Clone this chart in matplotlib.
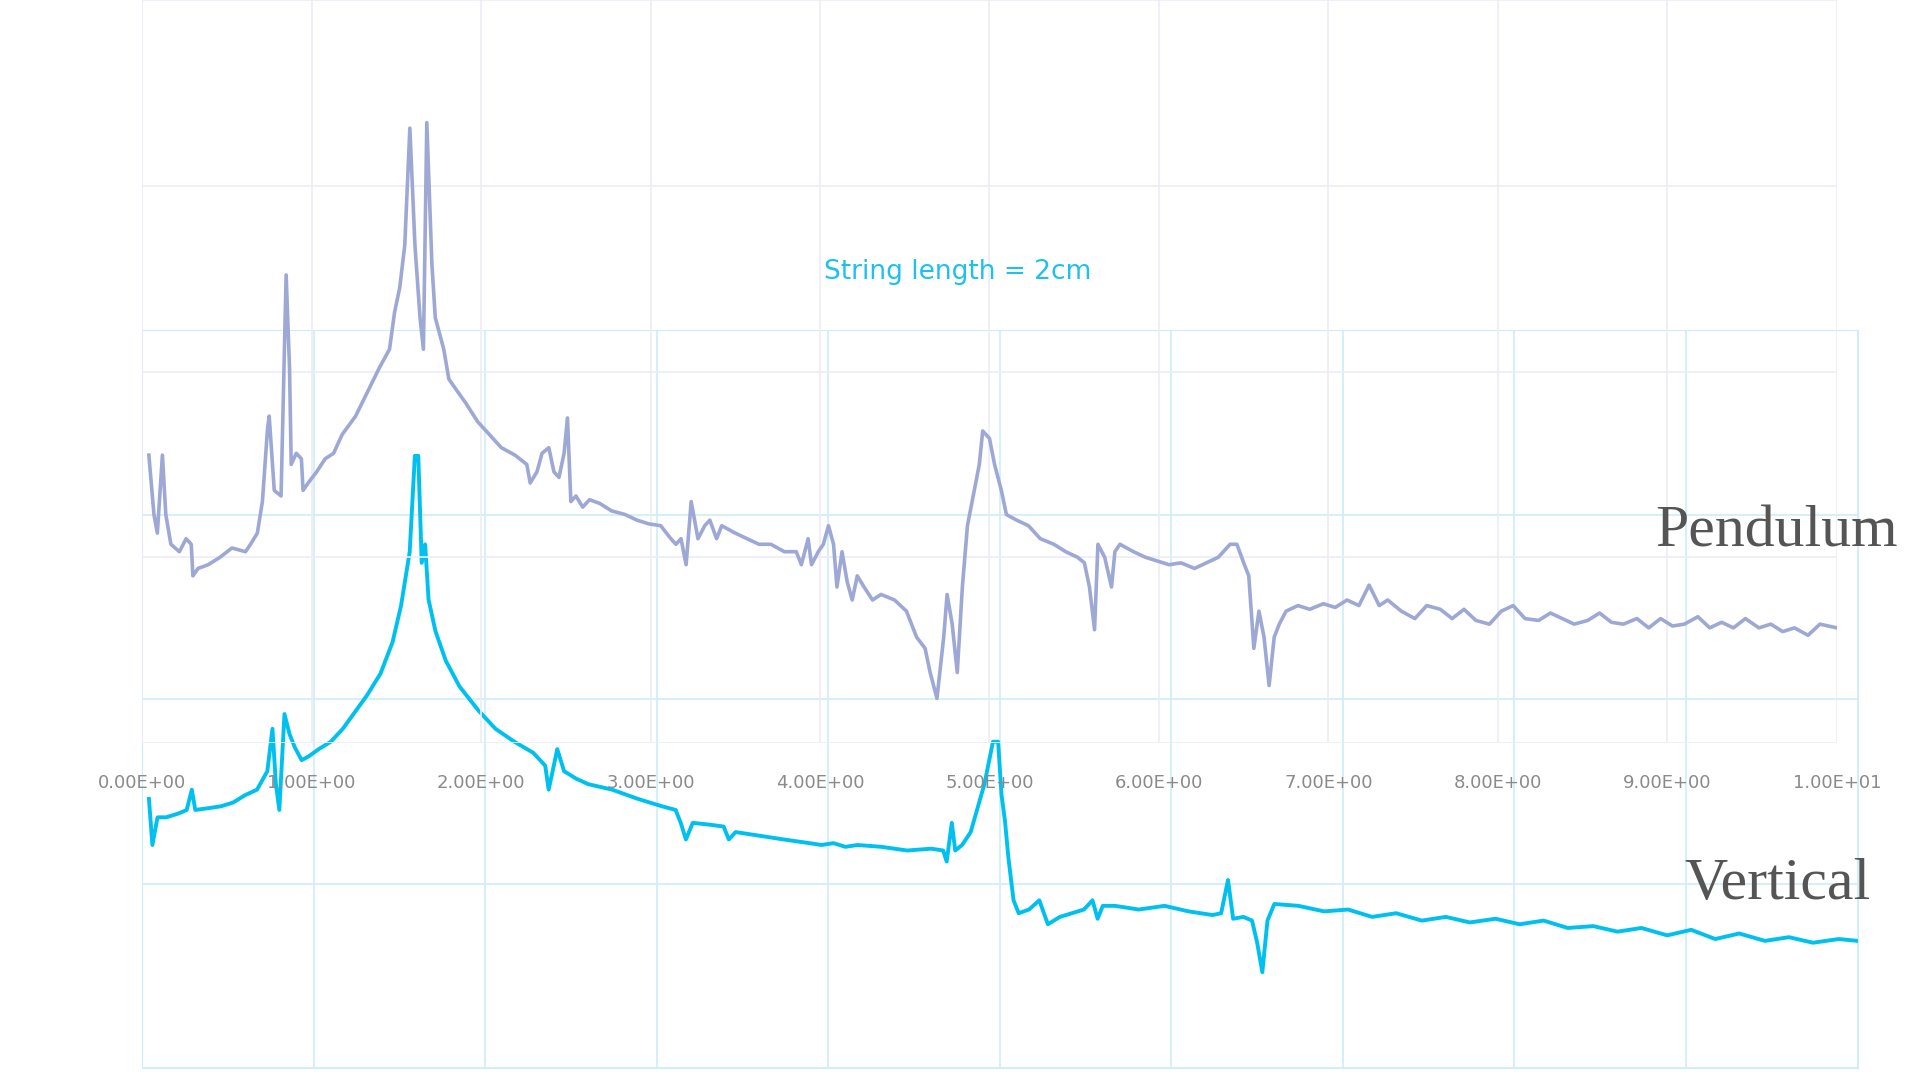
import matplotlib
matplotlib.use("Agg")
import matplotlib.pyplot as plt

# Pendulum trace (upper panel)
pend_x = [0.04, 0.07, 0.09, 0.12, 0.14, 0.17, 0.22, 0.26, 0.29, 0.30, 0.33, 0.39, 0.46, 0.53, 0.61, 0.64,
          0.68, 0.71, 0.74, 0.75, 0.78, 0.82, 0.85, 0.87, 0.88, 0.91, 0.94, 0.95, 0.98, 1.03, 1.08, 1.13,
          1.18, 1.26, 1.33, 1.40, 1.46, 1.49, 1.52, 1.55, 1.58, 1.61, 1.64, 1.66, 1.68, 1.71, 1.73, 1.78,
          1.81, 1.84, 1.91, 1.98, 2.05, 2.12, 2.20, 2.27, 2.29, 2.33, 2.36, 2.40, 2.43, 2.46, 2.49, 2.51,
          2.53, 2.56, 2.60, 2.64, 2.70, 2.77, 2.85, 2.92, 2.99, 3.06, 3.12, 3.15, 3.18, 3.21, 3.24, 3.28,
          3.32, 3.35, 3.39, 3.42, 3.50, 3.57, 3.64, 3.71, 3.79, 3.86, 3.89, 3.93, 3.95, 3.99, 4.02, 4.05,
          4.08, 4.10, 4.13, 4.16, 4.19, 4.22, 4.26, 4.31, 4.36, 4.44, 4.51, 4.57, 4.62, 4.65, 4.69, 4.73,
          4.75, 4.78, 4.81, 4.84, 4.87, 4.91, 4.94, 4.96, 5.00, 5.03, 5.07, 5.10, 5.16, 5.23, 5.30, 5.38,
          5.45, 5.52, 5.56, 5.59, 5.62, 5.64, 5.68, 5.72, 5.74, 5.77, 5.85, 5.92, 5.99, 6.06, 6.13, 6.21,
          6.28, 6.35, 6.42, 6.46, 6.50, 6.53, 6.56, 6.59, 6.62, 6.65, 6.68, 6.71, 6.75,
          6.82, 6.89, 6.97, 7.04, 7.11, 7.18, 7.24, 7.30, 7.35, 7.43, 7.51, 7.58, 7.66, 7.73, 7.80, 7.87,
          7.95, 8.02, 8.09, 8.16, 8.24, 8.31, 8.38, 8.45, 8.53, 8.60, 8.67, 8.74, 8.82, 8.89, 8.96, 9.03,
          9.10, 9.18, 9.25, 9.32, 9.39, 9.46, 9.54, 9.61, 9.68, 9.75, 9.83, 9.90, 10.0]
pend_y = [1.55, 1.23, 1.13, 1.55, 1.23, 1.07, 1.03, 1.10, 1.07, 0.90, 0.94, 0.96, 1.00, 1.05, 1.03, 1.07,
          1.13, 1.30, 1.69, 1.76, 1.36, 1.33, 2.52, 2.02, 1.50, 1.56, 1.53, 1.36, 1.40, 1.46, 1.53, 1.56,
          1.66, 1.76, 1.89, 2.02, 2.12, 2.32, 2.45, 2.68, 3.31, 2.68, 2.29, 2.12, 3.34, 2.58, 2.29, 2.12,
          1.96, 1.92, 1.83, 1.73, 1.66, 1.59, 1.55, 1.50, 1.40, 1.46, 1.56, 1.59, 1.46, 1.43, 1.56, 1.75,
          1.30, 1.33, 1.27, 1.31, 1.29, 1.25, 1.23, 1.20, 1.18, 1.17, 1.10, 1.07, 1.10, 0.96, 1.30, 1.10,
          1.17, 1.20, 1.10, 1.17, 1.13, 1.10, 1.07, 1.07, 1.03, 1.03, 0.96, 1.10, 0.96, 1.03, 1.07, 1.17,
          1.07, 0.84, 1.03, 0.87, 0.77, 0.90, 0.84, 0.77, 0.80, 0.77, 0.71, 0.57, 0.51, 0.38, 0.24, 0.57,
          0.80, 0.64, 0.38, 0.84, 1.17, 1.36, 1.50, 1.68, 1.64, 1.50, 1.36, 1.23, 1.20, 1.17, 1.10, 1.07,
          1.03, 1.00, 0.97, 0.84, 0.61, 1.07, 1.00, 0.84, 1.03, 1.07, 1.03, 1.00, 0.98, 0.96, 0.97, 0.94,
          0.97, 1.00, 1.07, 1.07, 0.97, 0.90, 0.51, 0.71, 0.57, 0.31, 0.57, 0.64, 0.71,
          0.74, 0.72, 0.75, 0.73, 0.77, 0.74, 0.85, 0.74, 0.77, 0.71, 0.67, 0.74, 0.72, 0.67, 0.72, 0.66,
          0.64, 0.71, 0.74, 0.67, 0.66, 0.70, 0.67, 0.64, 0.66, 0.70, 0.65, 0.64, 0.67, 0.62, 0.67, 0.63,
          0.64, 0.68, 0.62, 0.65, 0.62, 0.67, 0.62, 0.64, 0.60, 0.62, 0.58, 0.64, 0.62]

# Vertical trace (lower panel)
vert_x = [0.04, 0.06, 0.09, 0.14, 0.21, 0.26, 0.29, 0.31, 0.39, 0.46, 0.53, 0.60, 0.67, 0.73, 0.76, 0.78,
          0.80, 0.83, 0.86, 0.89, 0.93, 0.97, 1.03, 1.10, 1.17, 1.24, 1.31, 1.39, 1.46, 1.51, 1.56, 1.59,
          1.61, 1.63, 1.65, 1.67, 1.71, 1.77, 1.85, 1.96, 2.06, 2.17, 2.28, 2.35, 2.37, 2.40, 2.42, 2.46,
          2.53, 2.60, 2.74, 2.89, 3.03, 3.11, 3.14, 3.17, 3.21, 3.31, 3.39, 3.42, 3.46, 3.60, 3.74, 3.89,
          3.96, 4.03, 4.10, 4.17, 4.31, 4.46, 4.60, 4.67, 4.69, 4.72, 4.74, 4.78, 4.83, 4.87, 4.91, 4.96,
          4.99, 5.01, 5.03, 5.05, 5.08, 5.11, 5.17, 5.23, 5.28, 5.35, 5.42, 5.49, 5.54, 5.57, 5.60, 5.67,
          5.81, 5.96, 6.10, 6.24, 6.29, 6.33, 6.36, 6.42, 6.47, 6.50, 6.53, 6.56, 6.60,
          6.74, 6.89, 7.03, 7.17, 7.31, 7.46, 7.60, 7.74, 7.89, 8.03, 8.17, 8.31, 8.46, 8.60, 8.74, 8.89,
          9.03, 9.17, 9.31, 9.46, 9.60, 9.74, 9.89, 10.0]
vert_y = [1.46, 1.21, 1.36, 1.36, 1.38, 1.40, 1.51, 1.40, 1.41, 1.42, 1.44, 1.48, 1.51, 1.61, 1.84, 1.54,
          1.40, 1.92, 1.81, 1.74, 1.67, 1.69, 1.73, 1.77, 1.84, 1.93, 2.02, 2.14, 2.31, 2.51, 2.80, 3.32,
          3.32, 2.74, 2.84, 2.54, 2.37, 2.21, 2.07, 1.94, 1.84, 1.77, 1.71, 1.64, 1.51, 1.64, 1.73, 1.61,
          1.57, 1.54, 1.51, 1.46, 1.42, 1.40, 1.33, 1.24, 1.33, 1.32, 1.31, 1.24, 1.28, 1.26, 1.24, 1.22,
          1.21, 1.22, 1.20, 1.21, 1.20, 1.18, 1.19, 1.18, 1.12, 1.33, 1.18, 1.21, 1.28, 1.41, 1.54, 1.77,
          1.77, 1.48, 1.34, 1.14, 0.91, 0.84, 0.86, 0.91, 0.78, 0.82, 0.84, 0.86, 0.91, 0.81, 0.88, 0.88,
          0.86, 0.88, 0.85, 0.83, 0.84, 1.02, 0.81, 0.82, 0.80, 0.68, 0.52, 0.80, 0.89,
          0.88, 0.85, 0.86, 0.82, 0.84, 0.80, 0.82, 0.79, 0.81, 0.78, 0.80, 0.76, 0.77, 0.74, 0.76, 0.72,
          0.75, 0.70, 0.73, 0.69, 0.71, 0.68, 0.70, 0.69]

x_ticks = list(range(0, 11))
x_tick_labels = ["0.00E+00", "1.00E+00", "2.00E+00", "3.00E+00", "4.00E+00", "5.00E+00",
                 "6.00E+00", "7.00E+00", "8.00E+00", "9.00E+00", "1.00E+01"]

fig = plt.figure(figsize=(19.2, 10.8), dpi=100)
fig.patch.set_facecolor("white")

# lower panel (vertical)
ax2 = fig.add_axes([0.074, 0.011, 0.8935, 0.683])
ax2.set_facecolor("none")
ax2.set_xlim(0, 10)
ax2.set_ylim(0, 4)
ax2.set_xticks(x_ticks)
ax2.set_yticks(range(0, 5))
ax2.grid(True, color="#cdeef9", lw=1.2)
ax2.tick_params(length=0, labelbottom=False, labelleft=False)
for s in ax2.spines.values():
    s.set_color("#cdeef9")
ax2.plot(vert_x, vert_y, color="#00c0f0", lw=2.8)

# upper panel (pendulum)
ax1 = fig.add_axes([0.074, 0.312, 0.8827, 0.688])
ax1.set_facecolor("none")
ax1.set_xlim(0, 10)
ax1.set_ylim(0, 4)
ax1.set_xticks(x_ticks)
ax1.set_xticklabels(x_tick_labels, fontsize=13, color="#8a8a8a")
ax1.set_yticks(range(0, 5))
ax1.grid(True, color="#eeebf6", lw=1.2)
ax1.tick_params(length=0, pad=22, labelleft=False)
for s in ax1.spines.values():
    s.set_visible(False)
ax1.plot(pend_x, pend_y, color="#9ea8d4", lw=2.6)

fig.text(0.499, 0.748, "String length = 2cm", color="#1ec0f0", fontsize=19,
         ha="center", va="center")
fig.text(0.9885, 0.507, "Pendulum", family="Liberation Serif", fontsize=43,
         color="#555555", ha="right", va="center")
fig.text(0.926, 0.181, "Vertical", family="Liberation Serif", fontsize=43,
         color="#555555", ha="center", va="center")

fig.savefig("out.png", dpi=100)
